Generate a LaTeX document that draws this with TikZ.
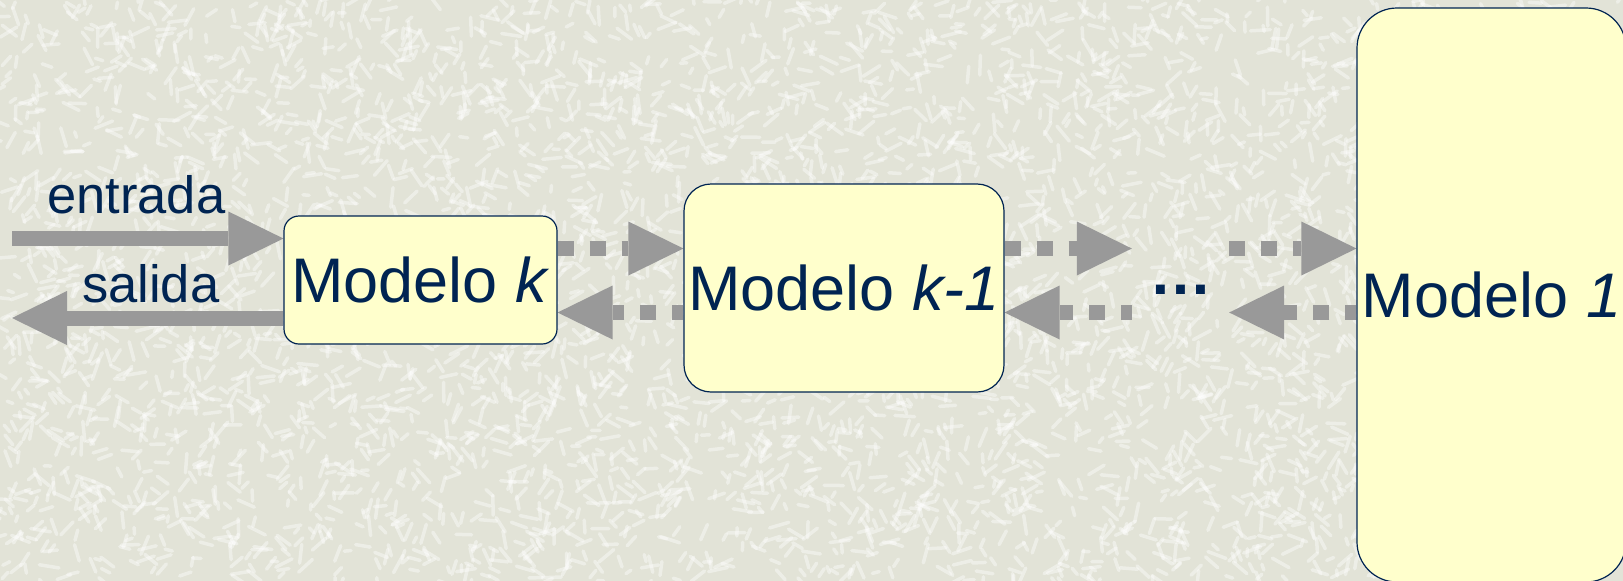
\documentclass[tikz,border=0pt]{standalone}
\usepackage{fontspec}
\setmainfont{Liberation Sans}
\usetikzlibrary{arrows.meta,positioning,backgrounds}
\definecolor{ink}{HTML}{002452}
\definecolor{paper}{HTML}{E2E3D7}
\definecolor{boxfill}{HTML}{FFFFCC}
\definecolor{pipe}{HTML}{999999}

\begin{document}
\begin{tikzpicture}[x=1pt,y=-1pt,
  model/.style={draw=ink,fill=boxfill,line width=1.2pt,inner sep=0pt,text=ink,
                font=\fontsize{63}{70}\selectfont},
  lbl/.style={text=ink,inner sep=0pt,anchor=base west,
              font=\fontsize{52.5}{60}\selectfont},
  speck/.style={white,opacity=.4,line width=3.5pt,line cap=round},
  flow/.style={draw=pipe,line width=15pt,
               -{Triangle[length=55pt,width=54pt,line width=0pt]}},
  dotflow/.style={flow,dash pattern=on 16pt off 16pt}]

% textured paper
\begin{scope}[on background layer]
  \fill[paper] (0,0) rectangle (1623,581);
  \begin{scope}
    \clip (0,0) rectangle (1623,581);
    \pgfmathsetseed{11}
    \foreach \i in {1,...,5000}{
      \pgfmathsetmacro{\px}{rnd*1623}
      \pgfmathsetmacro{\py}{rnd*581}
      \pgfmathsetmacro{\pa}{rnd*360}
      \pgfmathsetmacro{\pl}{6+rnd*14}
      \draw[speck] (\px,\py) -- ++(\pa:\pl);
    }
  \end{scope}
\end{scope}
\useasboundingbox (0,0) rectangle (1623,581);

% chain of models, the last one runs off the page
\node[model,rounded corners=15pt,minimum width=273pt,minimum height=128pt]
  (mk)  at (420.5,280) {Modelo \textit{k}};
\node[model,rounded corners=27pt,minimum width=320pt,minimum height=208pt]
  (mkm) at (844,288)   {Modelo \textit{k-1}};
\node[model,rounded corners=40pt,minimum width=269pt,minimum height=574pt]
  (m1)  at (1491.5,295) {Modelo \textit{1}};
\node[text=ink,inner xsep=17pt,inner ysep=0pt,anchor=base,
      font=\fontsize{63}{70}\selectfont\bfseries] (dots) at (1180.5,294) {…};

\node[lbl] (inlbl)  at (47,213) {entrada};
\node[lbl] (outlbl) at (82,302) {salida};

\coordinate (inL)  at (12,238.5);
\coordinate (outL) at (12,318);
\coordinate (hi)   at (0,248.5);
\coordinate (lo)   at (0,312.5);

\begin{scope}[on background layer]
  \draw[flow] (inL) -- (inL -| mk.west);
  \draw[flow] (mk.west |- outL) -- (outL);
  \draw[dotflow] (mk.east |- hi) -- (mkm.west |- hi);
  \draw[dotflow,dash phase=5pt] (mkm.west |- lo) -- (mk.east |- lo);
  \draw[dotflow] (mkm.east |- hi) -- (dots.west |- hi);
  \draw[dotflow,dash phase=5pt] (dots.west |- lo) -- (mkm.east |- lo);
  \draw[dotflow] (dots.east |- hi) -- (m1.west |- hi);
  \draw[dotflow,dash phase=5pt] (m1.west |- lo) -- (dots.east |- lo);
\end{scope}
\end{tikzpicture}
\end{document}
